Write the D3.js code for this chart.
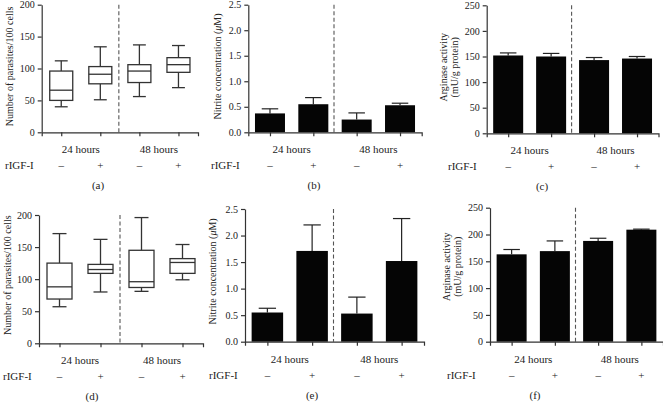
<!DOCTYPE html>
<html>
<head>
<meta charset="utf-8">
<script src="https://cdn.jsdelivr.net/npm/d3@7"></script>
<style>
  body { margin: 0; background: #fff; }
  svg text { font-family: "Liberation Serif", "DejaVu Serif", serif; fill: #222; }
  .axis path, .axis line { stroke: #333; stroke-width: 1.2; }
  .axis text { font-size: 10px; fill: #222; }
</style>
</head>
<body>
<div id="chart"></div>
<script>
// groups along x, same in every panel
var timeLabels = ["24 hours", "48 hours"];
var treatLabels = ["\u2013", "+", "\u2013", "+"];

// (a) and (d): parasites per 100 cells, box plots [min, q1, median, q3, max]
var boxA = [[40, 50, 66, 96, 112], [51, 76, 91, 103, 134], [56, 78, 96, 106, 137], [70, 94, 106, 117, 136]];
var boxD = [[57, 69, 88, 125, 171], [80, 109, 115, 123, 162], [81, 87, 96, 145, 196], [99, 109, 126, 132, 154]];

// (b) and (e): nitrite (uM), mean and upper error
var nitB = [0.37, 0.55, 0.25, 0.53];
var nitBErr = [0.46, 0.68, 0.38, 0.57];
var nitE = [0.55, 1.71, 0.53, 1.52];
var nitEErr = [0.63, 2.20, 0.84, 2.32];

// (c) and (f): arginase activity (mU/g protein)
var argC = [152, 150, 143, 146];
var argCErr = [157, 156, 148, 150];
var argF = [163, 169, 188, 209];
var argFErr = [172, 188, 193, 210];

var svg = d3.select("#chart").append("svg")
  .attr("width", 663)
  .attr("height", 404);

// shared axis + labels for one panel, returns scales
function frame(p) {
  var g = svg.append("g");
  var x = d3.scaleLinear().domain([-0.5, 3.5]).range([p.left, p.right]);
  var y = d3.scaleLinear().domain([0, p.max]).range([p.bottom, p.top]);

  // dashed separator between 24h and 48h
  g.append("line")
    .attr("x1", x(1.5) - 1).attr("x2", x(1.5) - 1)
    .attr("y1", y(p.max)).attr("y2", y(0))
    .attr("stroke", "#555")
    .attr("stroke-width", 1.1)
    .attr("stroke-dasharray", "4,2.5");

  g.append("g")
    .attr("class", "axis")
    .attr("transform", "translate(" + p.left + ",0)")
    .call(d3.axisLeft(y).tickValues(p.ticks).tickFormat(p.fmt).tickSize(4).tickSizeOuter(0));

  g.append("g")
    .attr("class", "axis")
    .attr("transform", "translate(0," + p.bottom + ")")
    .call(d3.axisBottom(x).tickValues([0, 1, 2, 3]).tickFormat("").tickSize(4).tickSizeOuter(4));

  // y titles (rotated, one or two lines)
  p.title.forEach(function(t, i) {
    var tx = g.append("text")
      .attr("transform", "translate(" + p.titleX[i] + "," + ((p.top + p.bottom) / 2 + p.titleDy) + ") rotate(-90)")
      .attr("text-anchor", "middle")
      .style("font-size", "10px");
    t.forEach(function(part) {
      tx.append("tspan").text(part[0]).style("font-style", part[1] ? "italic" : "normal");
    });
  });

  g.selectAll(".time")
    .data(timeLabels)
    .enter().append("text")
    .attr("x", function(d, i) { return x(i * 2 + 0.5); })
    .attr("y", p.bottom + 21)
    .attr("text-anchor", "middle")
    .style("font-size", "11px")
    .text(function(d) { return d; });

  g.append("text")
    .attr("x", p.rigfX)
    .attr("y", p.bottom + 37)
    .style("font-size", "11px")
    .text("rIGF-I");

  g.selectAll(".treat")
    .data(treatLabels)
    .enter().append("text")
    .attr("x", function(d, i) { return x(i); })
    .attr("y", p.bottom + 37)
    .attr("text-anchor", "middle")
    .style("font-size", "11px")
    .text(function(d) { return d; });

  g.append("text")
    .attr("x", p.letterX)
    .attr("y", p.bottom + 57)
    .attr("text-anchor", "middle")
    .style("font-size", "11px")
    .text(p.letter);

  return {g: g, x: x, y: y};
}

function boxPanel(p, data) {
  var f = frame(p);
  var w = p.bw, cw = p.bw * 0.56;
  var b = f.g.selectAll(".box").data(data).enter().append("g")
    .attr("stroke", "#333").attr("stroke-width", 1.3).attr("fill", "none");
  // whiskers
  b.append("line")
    .attr("x1", function(d, i) { return f.x(i); }).attr("x2", function(d, i) { return f.x(i); })
    .attr("y1", function(d) { return f.y(d[0]); }).attr("y2", function(d) { return f.y(d[1]); });
  b.append("line")
    .attr("x1", function(d, i) { return f.x(i); }).attr("x2", function(d, i) { return f.x(i); })
    .attr("y1", function(d) { return f.y(d[3]); }).attr("y2", function(d) { return f.y(d[4]); });
  [0, 4].forEach(function(k) {
    b.append("line")
      .attr("x1", function(d, i) { return f.x(i) - cw / 2; }).attr("x2", function(d, i) { return f.x(i) + cw / 2; })
      .attr("y1", function(d) { return f.y(d[k]); }).attr("y2", function(d) { return f.y(d[k]); });
  });
  b.append("rect")
    .attr("x", function(d, i) { return f.x(i) - w / 2; })
    .attr("width", w)
    .attr("y", function(d) { return f.y(d[3]); })
    .attr("height", function(d) { return f.y(d[1]) - f.y(d[3]); })
    .attr("fill", "#fff");
  b.append("line")
    .attr("x1", function(d, i) { return f.x(i) - w / 2; }).attr("x2", function(d, i) { return f.x(i) + w / 2; })
    .attr("y1", function(d) { return f.y(d[2]); }).attr("y2", function(d) { return f.y(d[2]); });
}

function barPanel(p, vals, errs) {
  var f = frame(p);
  var w = p.bw, cw = p.bw * 0.55;
  var g = f.g.selectAll(".bar").data(vals).enter().append("g");
  g.append("line")
    .attr("x1", function(d, i) { return f.x(i); }).attr("x2", function(d, i) { return f.x(i); })
    .attr("y1", function(d, i) { return f.y(errs[i]); }).attr("y2", function(d) { return f.y(d); })
    .attr("stroke", "#222").attr("stroke-width", 1.2);
  g.append("line")
    .attr("x1", function(d, i) { return f.x(i) - cw / 2; }).attr("x2", function(d, i) { return f.x(i) + cw / 2; })
    .attr("y1", function(d, i) { return f.y(errs[i]); }).attr("y2", function(d, i) { return f.y(errs[i]); })
    .attr("stroke", "#222").attr("stroke-width", 1.2);
  g.append("rect")
    .attr("x", function(d, i) { return f.x(i) - w / 2; })
    .attr("width", w)
    .attr("y", function(d) { return f.y(d); })
    .attr("height", function(d) { return f.y(0) - f.y(d); })
    .attr("fill", "#050505");
  // redraw x axis line over bar bottoms
  f.g.selectAll(".axis").raise();
}

var fmtInt = d3.format("d"), fmt1 = d3.format(".1f");
var parTitle = [[["Number of parasites/100 cells", false]]];
var nitTitle = [[["Nitrite concentration (", false], ["\u03bc", true], ["M)", false]]];
var argTitle = [[["Arginase activity", false]], [["(mU/g protein)", false]]];

boxPanel({left: 41.7, right: 198, top: 4.7, bottom: 132.3, max: 200, ticks: [0, 50, 100, 150, 200], fmt: fmtInt,
  title: parTitle, titleX: [13], titleDy: -2, rigfX: 5, letterX: 98, letter: "(a)", bw: 23}, boxA);
barPanel({left: 248.3, right: 421.7, top: 4.7, bottom: 132.3, max: 2.5, ticks: [0, 0.5, 1, 1.5, 2, 2.5], fmt: fmt1,
  title: nitTitle, titleX: [221], titleDy: -2, rigfX: 211, letterX: 314, letter: "(b)", bw: 30}, nitB, nitBErr);
barPanel({left: 486.7, right: 658.5, top: 5.3, bottom: 133.3, max: 250, ticks: [0, 50, 100, 150, 200, 250], fmt: fmtInt,
  title: argTitle, titleX: [447, 458], titleDy: -2, rigfX: 448, letterX: 542, letter: "(c)", bw: 30}, argC, argCErr);

boxPanel({left: 39, right: 203, top: 215, bottom: 343.3, max: 200, ticks: [0, 50, 100, 150, 200], fmt: fmtInt,
  title: parTitle, titleX: [11], titleDy: -4, rigfX: 3, letterX: 92, letter: "(d)", bw: 25}, boxD);
barPanel({left: 245, right: 424, top: 209, bottom: 341.7, max: 2.5, ticks: [0, 0.5, 1, 1.5, 2, 2.5], fmt: fmt1,
  title: nitTitle, titleX: [216], titleDy: -4, rigfX: 209, letterX: 312, letter: "(e)", bw: 31.5}, nitE, nitEErr);
barPanel({left: 490, right: 663, top: 207.7, bottom: 341.7, max: 250, ticks: [0, 50, 100, 150, 200, 250], fmt: fmtInt,
  title: argTitle, titleX: [450, 461], titleDy: -8, rigfX: 447, letterX: 535, letter: "(f)", bw: 30}, argF, argFErr);
</script>
</body>
</html>
